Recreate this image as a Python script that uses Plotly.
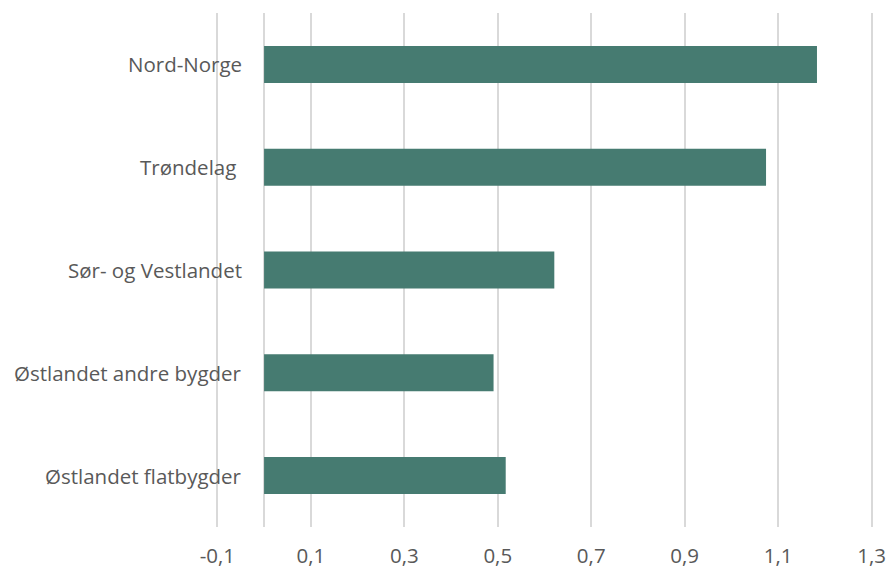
import plotly.graph_objects as go

# Regions (top to bottom as displayed) and their values
regions = ["Nord-Norge", "Trøndelag ", "Sør- og Vestlandet",
           "Østlandet andre bygder", "Østlandet flatbygder"]
values = [1.183, 1.074, 0.621, 0.491, 0.517]

# Tick positions on the value axis (decimal comma, plain hyphen for minus)
tick_vals = [-0.1, 0.1, 0.3, 0.5, 0.7, 0.9, 1.1, 1.3]
tick_text = [f"{v:.1f}".replace(".", ",") for v in tick_vals]

bar_color = "#467b71"
text_color = "#595959"
grid_color = "#d9d9d9"
font_family = "Open Sans, Liberation Sans, sans-serif"
font_size = 20.5

fig = go.Figure(
    go.Bar(
        x=values,
        y=regions,
        orientation="h",
        marker=dict(color=bar_color, line=dict(width=0)),
        width=0.36,
    )
)

# Category labels sit just left of the zero line, over the first gridline.
# A trailing space is kept visible as a non-breaking space.
for name in regions:
    shown = name.rstrip() + "\u00a0" * (len(name) - len(name.rstrip()))
    fig.add_annotation(
        x=-0.043, y=name, xref="x", yref="y",
        text=shown, showarrow=False,
        xanchor="right", yanchor="middle",
        font=dict(family=font_family, size=font_size, color=text_color),
    )

# small padding so the gridlines at both range ends are still drawn
pad = 0.005
fig.update_layout(
    width=890, height=570,
    margin=dict(l=215, r=16, t=13, b=43),
    paper_bgcolor="white", plot_bgcolor="white",
    showlegend=False,
    font=dict(family=font_family, size=font_size, color=text_color),
)

fig.update_xaxes(
    range=[-0.1 - pad, 1.3 + pad],
    tickvals=tick_vals,
    ticktext=tick_text,
    showgrid=True, gridcolor=grid_color, gridwidth=1.5,
    zeroline=True, zerolinecolor=grid_color, zerolinewidth=1.5,
    showline=False, ticks="",
    automargin=False,
    ticklabelstandoff=14,
    tickfont=dict(family=font_family, size=font_size, color=text_color),
)

fig.update_yaxes(
    categoryorder="array", categoryarray=regions[::-1],
    automargin=False,
    showticklabels=False, showgrid=False, zeroline=False, showline=False,
)

fig.write_html("out.html")
